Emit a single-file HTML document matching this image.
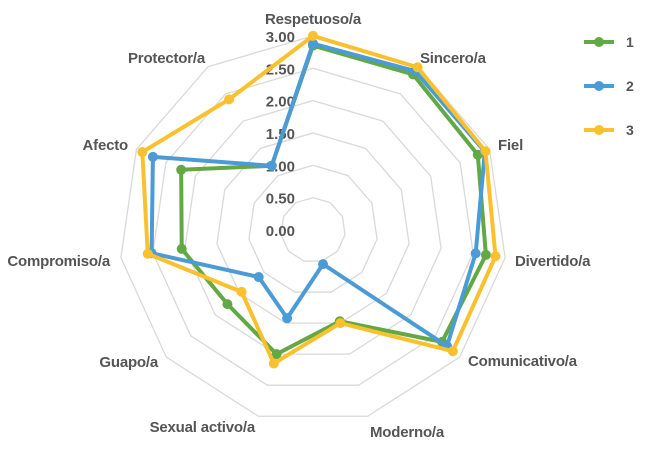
<!DOCTYPE html>
<html><head><meta charset="utf-8"><style>
body{margin:0;background:#fff;}
svg text{font-family:"Liberation Sans",sans-serif;font-weight:bold;fill:#555;}
</style></head><body>
<svg id="chart" width="650" height="444" xmlns="http://www.w3.org/2000/svg">
<g id="grid"></g>
<g id="ticks"></g>
<g id="cats"></g>
<g id="series"></g>
<g id="legend"></g>
</svg>
<script>
const categories = ["Respetuoso/a","Sincero/a","Fiel","Divertido/a","Comunicativo/a","Moderno/a","Sexual activo/a","Guapo/a","Compromiso/a","Afecto","Protector/a"];
const series1 = [2.85,2.86,2.8,2.7,2.64,1.47,2.0,1.75,2.05,2.24,1.18];
const series2 = [2.88,2.92,2.92,2.54,2.74,0.55,1.42,1.11,2.52,2.72,1.18];
const series3 = [3.0,2.99,2.93,2.85,2.86,1.5,2.15,1.46,2.58,2.9,2.4];
const seriesNames = ["1","2","3"];
const tickLabels = ["0.00","0.50","1.00","1.50","2.00","2.50","3.00"];
const tickValues = [0,0.5,1,1.5,2,2.5,3];
const NS="http://www.w3.org/2000/svg";
const cx=313, cy=230, unit=64.7;
const colors=["#62a844","#4a9bd6","#fbc02d"];
const labelPos=[[313,24,'middle'],[420,63,'start'],[498,150,'start'],[515,266,'start'],[468,366,'start'],[370,437,'start'],[255,432,'end'],[158,367,'end'],[110,266,'end'],[128,150,'end'],[205,63,'end']];
const n=categories.length;
function ang(i){return i*2*Math.PI/n;}
function pt(i,v){const a=ang(i);return [cx+Math.sin(a)*v*unit, cy-Math.cos(a)*v*unit];}
function mk(t,attrs,parent){const e=document.createElementNS(NS,t);for(const k in attrs)e.setAttribute(k,attrs[k]);parent.appendChild(e);return e;}
const grid=document.getElementById('grid');
tickValues.forEach(v=>{ if(v<=0) return;
  const pts=categories.map((c,i)=>pt(i,v).join(',')).join(' ');
  const p=mk('polygon',{points:pts,fill:'none',stroke:'#d9d9d9','stroke-width':1.3},grid);
  
  
});
const ticks=document.getElementById('ticks');
tickValues.forEach((v,k)=>{
  const t=mk('text',{x:295,y:cy-v*unit+6,'text-anchor':'end','font-size':15},ticks);
  t.textContent=tickLabels[k];
  
  
});
const cats=document.getElementById('cats');
categories.forEach((c,i)=>{
  const [x,y,anchor]=labelPos[i];
  const t=mk('text',{x:x,y:y,'text-anchor':anchor,'font-size':15,'letter-spacing':'-0.2'},cats);
  t.textContent=c;
  
  
});
const ser=document.getElementById('series');
[series1,series2,series3].forEach((vals,s)=>{
  const g=mk('g',{},ser);
  
  
  const pts=vals.map((v,i)=>pt(i,v).join(',')).join(' ');
  const pl=mk('polygon',{points:pts,fill:'none',stroke:colors[s],'stroke-width':4,'stroke-linejoin':'round'},g);
  
  
  vals.forEach((v,i)=>{const [x,y]=pt(i,v);
    const c=mk('circle',{cx:x,cy:y,r:5,fill:colors[s]},g);
    
    
  });
});
const leg=document.getElementById('legend');
seriesNames.forEach((nm,s)=>{
  const y=42+s*44;
  const g=mk('g',{},leg);
  
  
  mk('line',{x1:584,y1:y,x2:614,y2:y,stroke:colors[s],'stroke-width':4},g);
  mk('circle',{cx:599,cy:y,r:5,fill:colors[s]},g);
  const t=mk('text',{x:626,y:y+5,'font-size':14},g);
  t.textContent=nm;
});
</script>
</body></html>
